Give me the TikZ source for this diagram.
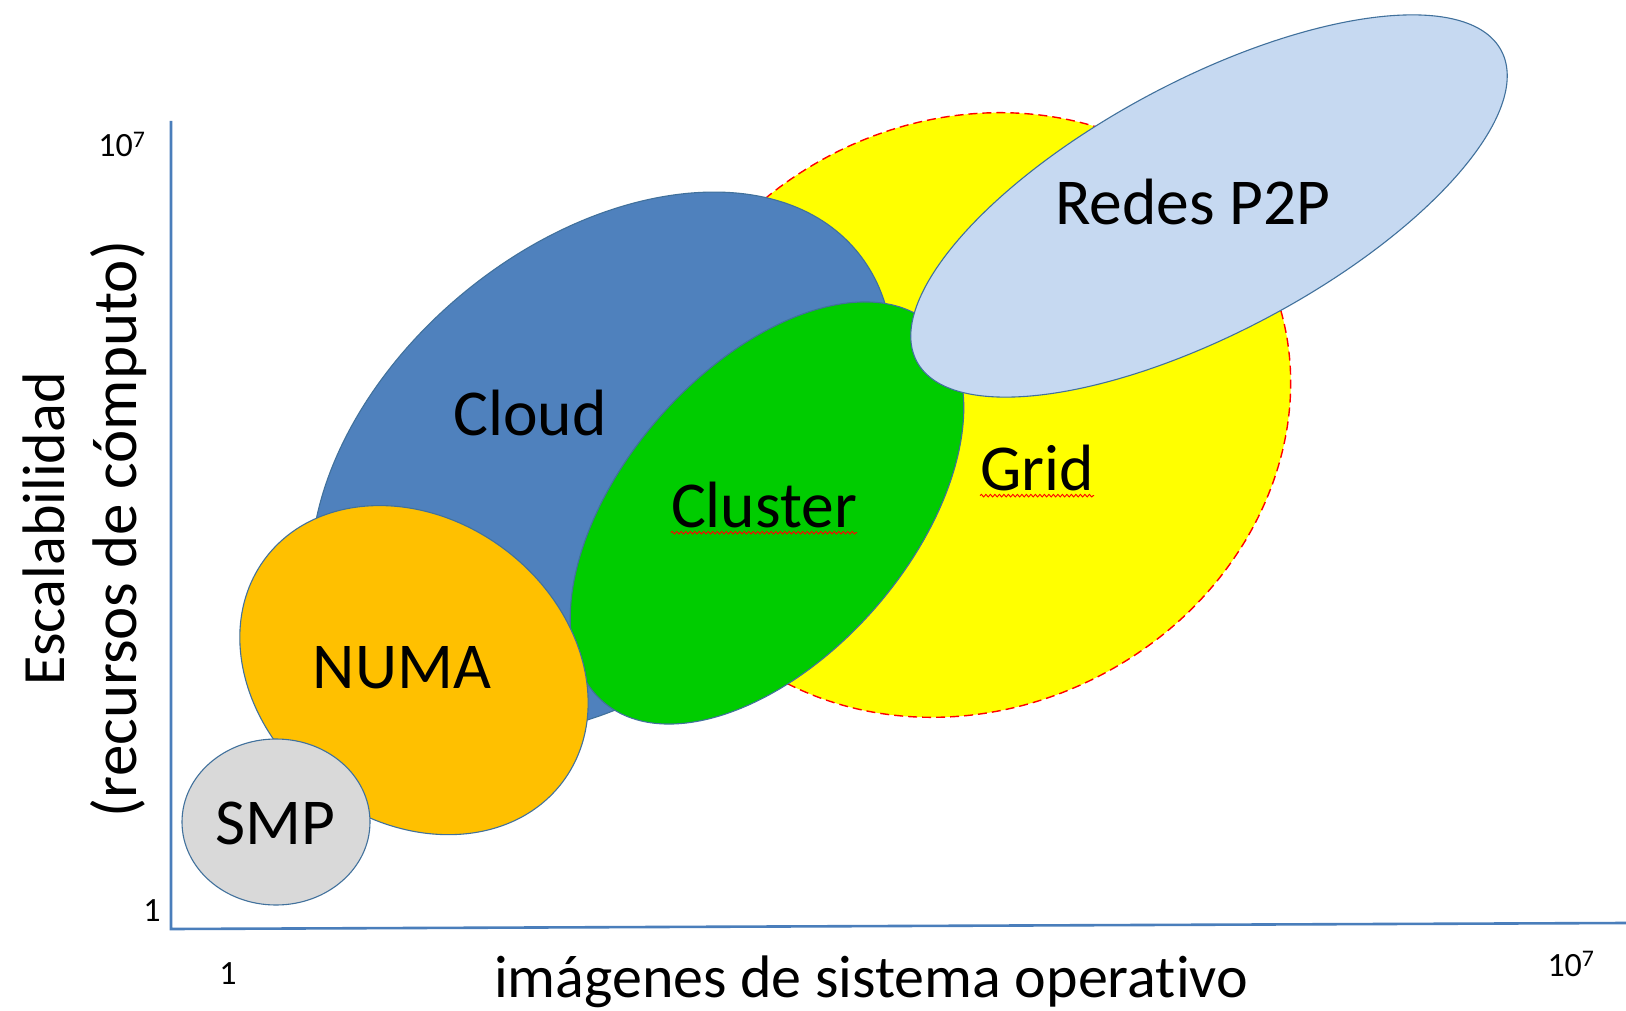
\documentclass[tikz,border=0pt]{standalone}
\usepackage{fontspec}
\setmainfont{Carlito}[Ligatures={NoCommon}]
\usetikzlibrary{decorations.pathmorphing}
\definecolor{cloudblue}{HTML}{4F81BD}
\definecolor{clustergreen}{HTML}{00CC00}
\definecolor{gridyellow}{HTML}{FFFF00}
\definecolor{ptwop}{HTML}{C6D9F1}
\definecolor{numaorange}{HTML}{FFC000}
\definecolor{smpgray}{HTML}{D9D9D9}
\definecolor{edgeblue}{HTML}{41719C}
\definecolor{axisblue}{HTML}{4A7EBB}
\begin{document}
\begin{tikzpicture}[x=1pt,y=-1pt,
  blob/.style={draw=edgeblue, line width=1.1pt},
  lbl/.style={font=\fontsize{65.5}{70}\selectfont, text=black, inner sep=0pt, anchor=base},
  axlbl/.style={font=\fontsize{60}{66}\selectfont, text=black, inner sep=0pt},
  ticklbl/.style={font=\fontsize{34}{38}\selectfont, text=black, inner sep=0pt, anchor=base},
  spell/.style={draw=red, line width=0.9pt, decorate, decoration={snake, amplitude=1.3pt, segment length=4.5pt}},
  axisline/.style={draw=axisblue, line width=2.6pt}]
\useasboundingbox (0,0) rectangle (1626,1011);
\fill[white] (0,0) rectangle (1626,1011);

% shapes
\coordinate (cgrid) at (966,415);
\coordinate (ccloud) at (602,464);
\coordinate (ccluster) at (767,513);
\coordinate (cptp) at (1209,206);
\coordinate (cnuma) at (414,670);
\coordinate (csmp) at (276,822);

\draw[fill=gridyellow, draw=red, line width=1.4pt, dash pattern=on 9pt off 5pt, rotate around={28:(cgrid)}]
  (cgrid) ellipse [x radius=333pt, y radius=293pt];
\draw[blob, fill=cloudblue, rotate around={40:(ccloud)}]
  (ccloud) ellipse [x radius=332pt, y radius=220pt];
\draw[blob, fill=clustergreen, rotate around={49:(ccluster)}]
  (ccluster) ellipse [x radius=250pt, y radius=144pt];
\draw[blob, fill=ptwop, rotate around={28:(cptp)}]
  (cptp) ellipse [x radius=331pt, y radius=126pt];
\draw[blob, fill=numaorange, rotate around={-37:(cnuma)}]
  (cnuma) ellipse [x radius=186pt, y radius=151pt];
\draw[blob, fill=smpgray]
  (csmp) ellipse [x radius=94pt, y radius=83pt];

% axes
\coordinate (ytop) at (171,121);
\coordinate (origin) at (171,929);
\coordinate (xend) at (1626,923);
\draw[axisline] (ytop) -- (origin) -- (xend);

% labels
\node[lbl] (ptpl) at (1193,225) {Redes P2P};
\node[lbl] (cloudl) at (530,435) {Cloud};
\node[lbl] (clusterl) at (764,527) {Cluster};
\node[lbl] (gridl) at (1037,490) {Grid};
\node[lbl] (numal) at (402,688) {NUMA};
\node[lbl] (smpl) at (275,844) {SMP};

\draw[spell] (clusterl.south west) ++(0,5) -- ([yshift=-5pt]clusterl.south east);
\draw[spell] (gridl.south west) ++(0,5) -- ([yshift=-5pt]gridl.south east);

\node[axlbl, anchor=base] (xlab) at (871,997) {imágenes de sistema operativo};
\node[axlbl, rotate=90] (ylab1) at (44,529) {Escalabilidad};
\node[axlbl, rotate=90, font=\fontsize{63}{68}\selectfont] (ylab2) at (119,529) {(recursos de cómputo)};

\node[ticklbl] (ytopl) at (122,157) {10\textsuperscript{7}};
\node[ticklbl] (yzero) at (152,921) {1};
\node[ticklbl] (xzero) at (228,984) {1};
\node[ticklbl] (xtopl) at (1571,976) {10\textsuperscript{7}};
\end{tikzpicture}
\end{document}
